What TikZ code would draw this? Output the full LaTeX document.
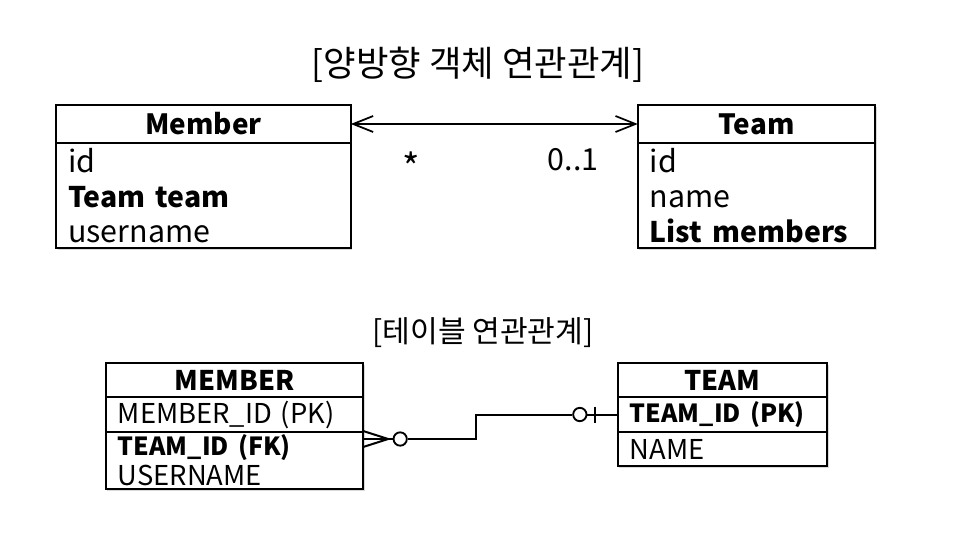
\documentclass[tikz,border=0pt]{standalone}
\usepackage{fontspec}
\setmainfont{Noto Sans CJK KR}
\usetikzlibrary{positioning, calc, arrows.meta, shadows}

\begin{document}
\begin{tikzpicture}[
    x=0.75pt, y=-0.75pt,
    box/.style={rectangle, draw, fill=white, line width=1.6pt, outer sep=0pt,
        drop shadow={opacity=0.3, shadow xshift=1.2pt, shadow yshift=-1.2pt}},
    classhead/.style={box, font=\fontsize{20.9}{24}\selectfont\bfseries, inner sep=0pt},
    classrows/.style={box, align=left, inner xsep=9pt, inner ysep=0pt, font=\fontsize{22.8}{26.25}\selectfont},
    tablehead/.style={box, font=\fontsize{20.3}{24}\selectfont\bfseries, inner sep=0pt},
    tablerows/.style={box, align=left, inner xsep=9pt, inner ysep=0pt, font=\fontsize{20.5}{22.5}\selectfont},
    caption/.style={font=\fontsize{26.5}{30}\selectfont},
    mult/.style={font=\fontsize{22.8}{26}\selectfont, anchor=base},
    assoc/.style={line width=1.3pt, {Straight Barb[length=15pt,width=12pt]}-{Straight Barb[length=15pt,width=12pt]}},
    er/.style={line width=1.5pt},
    ring/.style={circle, draw, fill=white, line width=1.4pt, minimum size=10pt, inner sep=0pt}
]
\useasboundingbox (0,0) rectangle (957,535);
\newcommand{\rowbf}[1]{{\fontsize{21.3}{26.25}\selectfont\bfseries #1}}
\newcommand{\keybf}[1]{{\fontsize{18.7}{22.5}\selectfont\bfseries #1}}

% object model
\node [caption] (objcap) at (478,65) {[양방향 객체 연관관계]};
\node [classhead, minimum width=221pt, minimum height=28.5pt] (member) at (203.5,124) {Member};
\node [classrows, text width=203pt, minimum height=78.75pt, below=0pt of member] (memberattr) {id\\\rowbf{Team team}\\username};
\node [classhead, minimum width=178pt, minimum height=28.5pt] (team) at (756.5,124) {Team};
\node [classrows, text width=160pt, minimum height=78.75pt, below=0pt of team] (teamattr) {id\\name\\\rowbf{List members}};

\draw [assoc] (member.east) -- (team.west);
\node [mult, font=\fontsize{28}{30}\selectfont] (many) at (411,181) {*};
\node [mult] (one) at (573,170) {0..1};

% table model
\node [caption, font=\fontsize{22.6}{26}\selectfont] (tblcap) at (483,333) {[테이블 연관관계]};
\node [tablehead, minimum width=193pt, minimum height=25.5pt] (mtable) at (234.5,380) {MEMBER};
\node [tablerows, text width=175pt, minimum height=26.25pt, below=0pt of mtable] (mpk) {MEMBER\_ID (PK)};
\node [tablerows, text width=175pt, minimum height=42.75pt, below=0pt of mpk] (mfk) {\keybf{TEAM\_ID (FK)}\\USERNAME};
\node [tablehead, minimum width=157pt, minimum height=25.5pt] (ttable) at (722.5,380) {TEAM};
\node [tablerows, text width=139pt, minimum height=26.25pt, below=0pt of ttable] (tpk) {\keybf{TEAM\_ID (PK)}};
\node [tablerows, text width=139pt, minimum height=25.5pt, below=0pt of tpk] (tname) {NAME};

\coordinate (fkpt) at ($(mfk.north east)+(0,-5.25pt)$);
\draw [er] ($(fkpt)+(0,-8)$) -- ($(fkpt)+(25,0)$) -- ($(fkpt)+(0,8)$);
\draw [er] (fkpt) -- ($(fkpt)+(30,0)$);
\node [ring] (manyring) at ($(fkpt)+(37,0)$) {};
\node [ring] (onering) at ($(tpk.west)+(-38,0)$) {};
\draw [er] (manyring.east) -- ++(68,0) |- (onering.west);
\draw [er] (onering.east) -- (tpk.west);
\draw [er] ($(tpk.west)+(-23,-8)$) -- ($(tpk.west)+(-23,8)$);
\end{tikzpicture}
\end{document}
